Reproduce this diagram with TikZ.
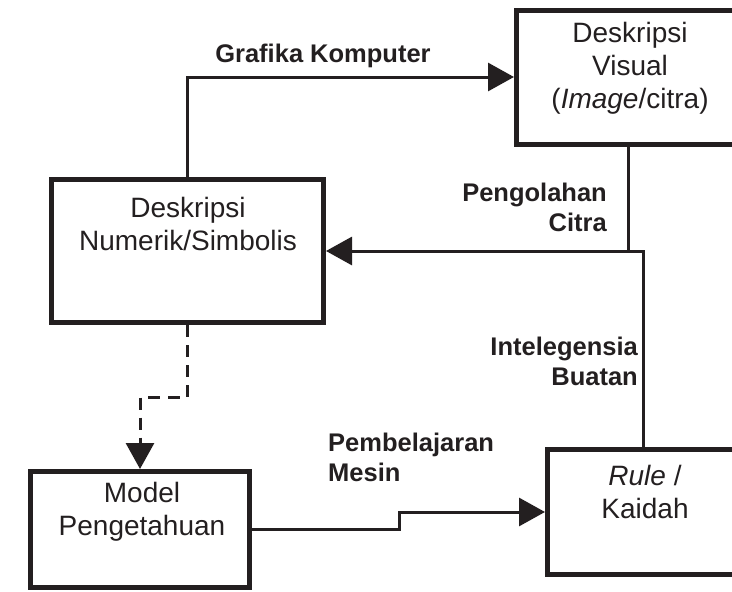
\documentclass[tikz,border=0pt]{standalone}
\usepackage{fontspec}
\setmainfont{Liberation Sans}
\usetikzlibrary{arrows.meta}
\definecolor{ink}{HTML}{231F20}
\begin{document}
\begin{tikzpicture}[x=1pt,y=-1pt,
  every node/.style={text=ink},
  box/.style={draw=ink,line width=5pt,rectangle,anchor=north west,inner sep=0pt},
  boxtext/.style={align=center,inner sep=0pt,font=\fontsize{28}{33}\selectfont},
  lbl/.style={inner sep=0pt,font=\fontsize{25.5}{30}\selectfont\bfseries},
  conn/.style={draw=ink,line width=3pt},
  arr/.style={conn,-{Triangle[length=26pt,width=28pt]}},
  dasharr/.style={arr,dash pattern=on 12pt off 8pt}]
\useasboundingbox (0,0) rectangle (732,592);
\clip (0,0) rectangle (732,592);

% boxes (anchored at their outer corner; outer sep is half the border)
\node[box,minimum width=228.5pt,minimum height=134pt] (vis) at (514,8) {};
\node[box,minimum width=272pt,minimum height=143pt] (num) at (49,177) {};
\node[box,minimum width=219pt,minimum height=116pt] (model) at (28,469) {};
\node[box,minimum width=200pt,minimum height=125pt] (rule) at (545,447) {};

% box texts
\node[boxtext] (vistext) at (630,68) {Deskripsi\\Visual\\(\textit{Image}/citra)};
\node[boxtext] (numtext) at (188,223.5) {Deskripsi\\Numerik/Simbolis};
\node[boxtext] (modeltext) at (142,512) {Model\\Pengetahuan};
\node[boxtext] (ruletext) at (645,492) {\textit{Rule} /\\Kaidah};

% connectors
\draw[arr] (num.north) |- (vis.west |- 0,77);
\draw[conn] (vis.south -| 628,0) -- (628,251);
\draw[arr] (rule.north -| 643,0) |- (num.east);
\draw[dasharr] (num.south) |- (model.north |- 0,397) -- (model.north);
\draw[arr] (model.east) -| (399,512) -- (rule.west);

% connector labels
\node[lbl] (lgk) at (323,56) {Grafika Komputer};
\node[lbl,align=right,anchor=east] (lpc) at (607,207) {Pengolahan\\Citra};
\node[lbl,align=right,anchor=east] (lib) at (638,361) {Intelegensia\\Buatan};
\node[lbl,align=left,anchor=west] (lpm) at (328,457) {Pembelajaran\\Mesin};
\end{tikzpicture}
\end{document}
